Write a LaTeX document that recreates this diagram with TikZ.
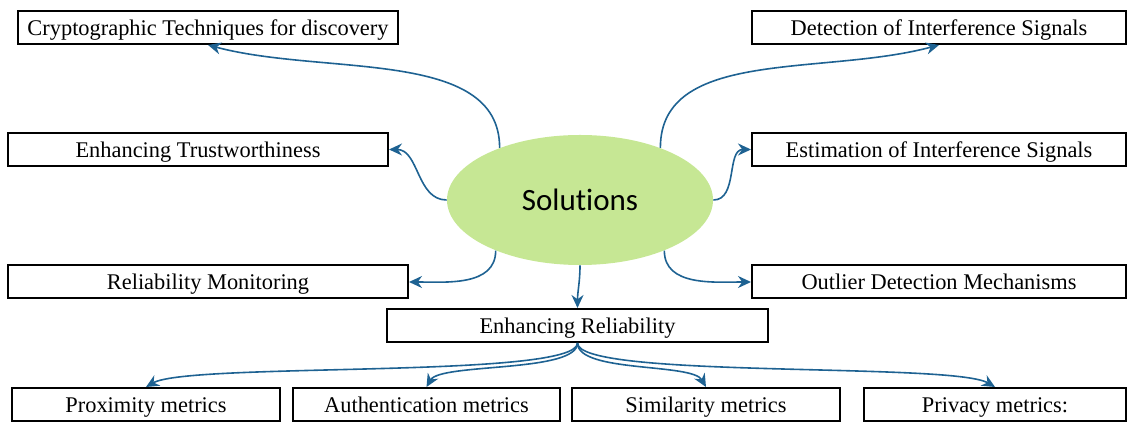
\documentclass[tikz,border=0pt]{standalone}
\usepackage{fontspec}
\setmainfont{Liberation Serif}
\newfontfamily\solfont[Ligatures=NoCommon]{Carlito}
\usepackage{tikz}
\usetikzlibrary{shapes.geometric}
\usetikzlibrary{arrows.meta}
\definecolor{linkblue}{RGB}{30,98,146}
\definecolor{solgreen}{RGB}{198,231,148}

\begin{document}
\begin{tikzpicture}[x=0.5pt, y=0.5pt,
        box/.style={rectangle, draw, line width=1pt, minimum height=16.5pt, inner sep=0pt, text height=10pt, text depth=2pt, font=\fontsize{11.2}{13}\selectfont},
        link/.style={draw=linkblue, line width=0.8pt, -{Stealth[length=6.5pt, width=6pt]}}]
        \useasboundingbox (0,0) rectangle (1128,422);
        % Central ellipse
        \node[ellipse, fill=solgreen, minimum width=133pt, minimum height=65pt, inner sep=0pt, font=\solfont\fontsize{15.5}{18}\selectfont] (sol) at (580,222) {Solutions};
        % Boxes round the centre
        \node[box, minimum width=190pt] (crypt) at (208,394.5) {Cryptographic Techniques for discovery};
        \node[box, minimum width=187pt] (detect) at (939,394.5) {Detection of Interference Signals};
        \node[box, minimum width=190pt] (trust) at (198,272.5) {Enhancing Trustworthiness};
        \node[box, minimum width=187pt] (estim) at (939,272.5) {Estimation of Interference Signals};
        \node[box, minimum width=200pt] (relmon) at (208,140) {Reliability Monitoring};
        \node[box, minimum width=187pt] (outlier) at (939,140) {Outlier Detection Mechanisms};
        \node[box, minimum width=190.5pt] (enhrel) at (577.5,96.5) {Enhancing Reliability};
        % Metrics row
        \node[box, minimum width=134pt] (prox) at (146,17.5) {Proximity metrics};
        \node[box, minimum width=133.5pt] (auth) at (426.5,17.5) {Authentication metrics};
        \node[box, minimum width=134pt] (simil) at (706,17.5) {Similarity metrics};
        \node[box, minimum width=131pt] (priv) at (995,17.5) {Privacy metrics:};
        % Connectors
        \draw[link] (sol.147) to[out=90, in=-15, out distance=50pt, in distance=60pt] (crypt.south);
        \draw[link] (sol.33) to[out=90, in=195, out distance=50pt, in distance=60pt] (detect.south);
        \draw[link] (sol.west) to[out=180, in=0] (trust.east);
        \draw[link] (sol.east) to[out=0, in=180] (estim.west);
        \draw[link] (sol.211) to[out=-90, in=0] (relmon.east);
        \draw[link] (sol.329) to[out=-90, in=180] (outlier.west);
        \draw[link] (sol.south) to[out=-90, in=90] (enhrel.north);
        \draw[link] (enhrel.south) to[out=-90, in=30, out distance=18pt, in distance=25pt] (prox.north);
        \draw[link] (enhrel.south) to[out=-90, in=60, out distance=15pt, in distance=14pt] (auth.north);
        \draw[link] (enhrel.south) to[out=-90, in=120, out distance=15pt, in distance=14pt] (simil.north);
        \draw[link] (enhrel.south) to[out=-90, in=150, out distance=18pt, in distance=25pt] (priv.north);
    \end{tikzpicture}
\end{document}
